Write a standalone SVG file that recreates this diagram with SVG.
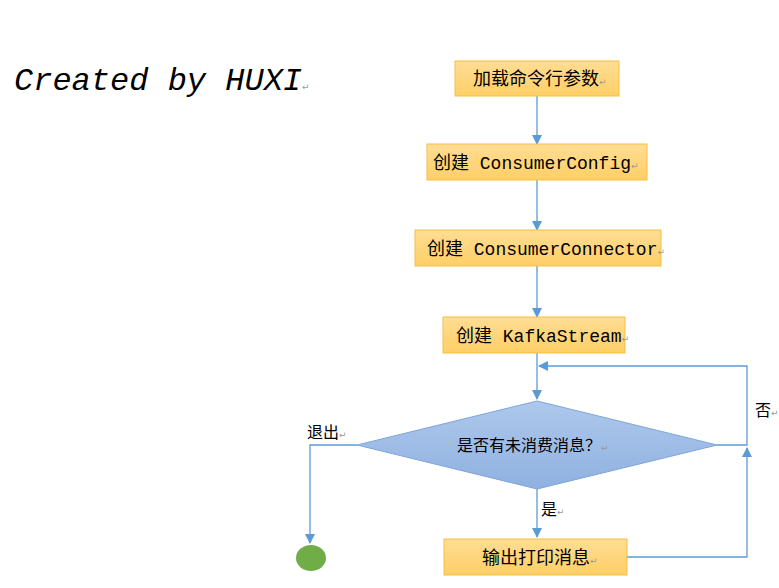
<svg xmlns="http://www.w3.org/2000/svg" width="779" height="588" viewBox="0 0 779 588">
<defs>
<linearGradient id="gy" x1="0" y1="0" x2="0" y2="1"><stop offset="0" stop-color="#ffdd94"/><stop offset="1" stop-color="#ffcf66"/></linearGradient>
<linearGradient id="gb" x1="0" y1="0" x2="0" y2="1"><stop offset="0" stop-color="#aec8ec"/><stop offset="1" stop-color="#8fb1e0"/></linearGradient>
<marker id="ah" markerWidth="10" markerHeight="10" refX="9" refY="5" orient="auto" markerUnits="userSpaceOnUse"><path d="M0,0 L10,5 L0,10 z" fill="#5b9bd5"/></marker>
</defs>
<style>
.box{fill:url(#gy);stroke:#f4bf45;stroke-width:1}
.t{font-family:"Liberation Mono","Noto Sans CJK SC",monospace;font-size:18px;fill:#000}
.lbl{font-family:"Noto Sans CJK SC",sans-serif;font-size:16px;fill:#000}
.pm{font-family:"DejaVu Sans",sans-serif;font-size:9px;fill:#999}
.c{fill:none;stroke:#5b9bd5;stroke-width:1.3}
</style>
<rect width="779" height="588" fill="#fff"/>
<text x="14" y="90" font-family="Liberation Mono, monospace" font-style="italic" font-size="32" fill="#000">Created by HUXI<tspan class="pm">↵</tspan></text>

<g id="connectors">
<path class="c" d="M537,96 V144" marker-end="url(#ah)"/>
<path class="c" d="M537,180 V230" marker-end="url(#ah)"/>
<path class="c" d="M537,266 V317" marker-end="url(#ah)"/>
<path class="c" d="M537,353 V399" marker-end="url(#ah)"/>
<path class="c" d="M717,445 H747 V366 H539" marker-end="url(#ah)"/>
<path class="c" d="M627,557 H747 V448" marker-end="url(#ah)"/>
<path class="c" d="M357,445 H310 V543" marker-end="url(#ah)"/>
<path class="c" d="M537,489 V537" marker-end="url(#ah)"/>
</g>

<g id="n1"><rect class="box" x="455" y="61" width="164" height="35"/><text class="t" x="473" y="85">加载命令行参数<tspan class="pm">↵</tspan></text></g>
<g id="n2"><rect class="box" x="427" y="144" width="220" height="36"/><text class="t" x="433" y="169">创建 ConsumerConfig<tspan class="pm">↵</tspan></text></g>
<g id="n3"><rect class="box" x="415" y="230" width="246" height="36"/><text class="t" x="427" y="255">创建 ConsumerConnector<tspan class="pm">↵</tspan></text></g>
<g id="n4"><rect class="box" x="443" y="317" width="182" height="36"/><text class="t" x="456" y="342">创建 KafkaStream<tspan class="pm">↵</tspan></text></g>
<g id="n5"><polygon points="357,445 537,401 717,445 537,489" fill="url(#gb)" stroke="#7ea6da" stroke-width="1"/><text class="lbl" x="457" y="451">是否有未消费消息？<tspan class="pm">↵</tspan></text></g>
<g id="n6"><rect class="box" x="444" y="539" width="183" height="36"/><text class="t" x="482" y="564" font-size="17">输出打印消息<tspan class="pm">↵</tspan></text></g>
<g id="n7"><ellipse cx="311" cy="558" rx="15" ry="13" fill="#70ad47"/></g>

<text class="lbl" x="307" y="438">退出<tspan class="pm">↵</tspan></text>
<text class="lbl" x="755" y="416">否<tspan class="pm">↵</tspan></text>
<text class="lbl" x="541" y="515">是<tspan class="pm">↵</tspan></text>
</svg>
